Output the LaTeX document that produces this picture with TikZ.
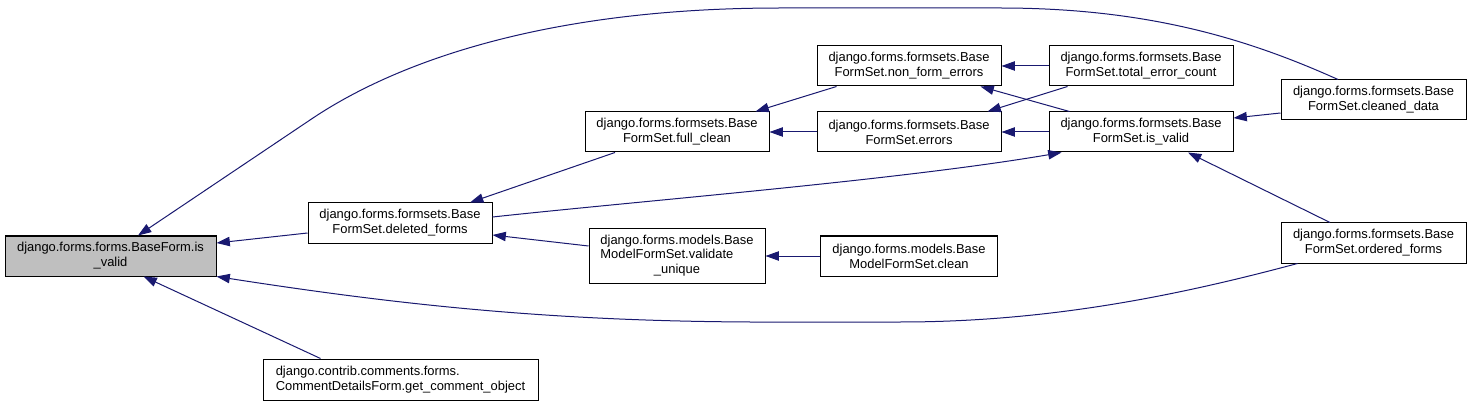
\documentclass[tikz,border=0pt]{standalone}
\usepackage{fontspec}
\setmainfont{Liberation Sans}
\usetikzlibrary{arrows.meta,calc}
\definecolor{edgeblue}{HTML}{191970}
\definecolor{rootgray}{HTML}{BFBFBF}
\tikzset{
  fn/.style={draw=black, line width=0.75pt, fill=white, inner sep=0pt, align=center,
             font=\fontsize{9.7}{11.2}\selectfont, text=black},
  root/.style={fn, fill=rootgray},
  sz/.style 2 args={minimum width=#1*0.75pt, minimum height=#2*0.75pt},
  call/.style={draw=edgeblue, line width=0.75pt, -{Triangle[length=10pt,width=7pt]}, color=edgeblue},
}
\begin{document}
\begin{tikzpicture}[x=0.75pt,y=-0.75pt]
\fill[white] (0,0) rectangle (1471,406);
\useasboundingbox (0,0) rectangle (1471,406);

\node[root, sz={211}{40}] (A) at (110.5,256) {django.forms.forms.BaseForm.is\\\_valid};
\node[fn, sz={184}{40}] (B) at (400,223) {django.forms.formsets.Base\\FormSet.deleted\_forms};
\node[fn, sz={184}{40}] (C) at (677,132) {django.forms.formsets.Base\\FormSet.full\_clean};
\node[fn, sz={176}{54}] (D) at (677,256) {\begin{tabular}{@{}l@{}}django.forms.models.Base\\ModelFormSet.validate\\\multicolumn{1}{@{}c@{}}{\_unique}\end{tabular}};
\node[fn, sz={177}{40}] (E) at (909,256) {django.forms.models.Base\\ModelFormSet.clean};
\node[fn, sz={184}{40}] (F) at (909,66) {django.forms.formsets.Base\\FormSet.non\_form\_errors};
\node[fn, sz={184}{40}] (G) at (909,132) {django.forms.formsets.Base\\FormSet.errors};
\node[fn, sz={184}{40}] (H) at (1141,66) {django.forms.formsets.Base\\FormSet.total\_error\_count};
\node[fn, sz={184}{40}] (I) at (1141,132) {django.forms.formsets.Base\\FormSet.is\_valid};
\node[fn, sz={185}{40}] (J) at (1373.5,100) {django.forms.formsets.Base\\FormSet.cleaned\_data};
\node[fn, sz={185}{40}] (K) at (1373.5,243) {django.forms.formsets.Base\\FormSet.ordered\_forms};
\node[fn, sz={275}{41}, align=left] (L) at (400.5,379.5) {django.contrib.comments.forms.\\CommentDetailsForm.get\_comment\_object};

% edges into BaseForm.is_valid
\draw[call] ($(B.west)+(0,10)$) -- ($(A.east)+(0,-13)$);
\draw[call] ($(J.north)+(-35.5,0)$) .. controls (1250,40) and (1150,8) .. (1000,8)
   -- (780,8) .. controls (550,8) and (400,60) .. (313,118) -- ($(A.north)+(27.5,0)$);
\draw[call] ($(K.south west)+(17,0)$) .. controls (1180,295) and (1050,322) .. (900,322)
   -- (750,322) .. controls (550,321) and (400,305) .. (A.south east);
\draw[call] ($(L.north)+(-80,0)$) -- ($(A.south)+(33,0)$);

% deleted_forms
\draw[call] ($(C.south)+(-62,0)$) -- ($(B.north)+(70,0)$);
\draw[call] ($(D.west)+(0,-10)$) -- ($(B.east)+(0,12)$);
\draw[call] ($(B.east)+(0,-6)$) .. controls (650,200) and (900,180) .. ($(I.south west)+(13,0)$);

% full_clean
\draw[call] (G.west) -- (C.east);
\draw[call] ($(F.south west)+(20,0)$) -- ($(C.north east)+(-14,0)$);

% validate_unique
\draw[call] (E.west) -- (D.east);

% non_form_errors
\draw[call] (H.west) -- (F.east);
\draw[call] ($(I.north west)+(21,0)$) -- ($(F.south east)+(-21,0)$);

% errors
\draw[call] ($(H.south west)+(19,0)$) -- ($(G.north east)+(-14,0)$);
\draw[call] (I.west) -- (G.east);

% formset is_valid
\draw[call] ($(J.west)+(0,13)$) -- ($(I.east)+(0,-14)$);
\draw[call] ($(K.north)+(-43.5,0)$) -- ($(I.south)+(47,0)$);
\end{tikzpicture}
\end{document}
